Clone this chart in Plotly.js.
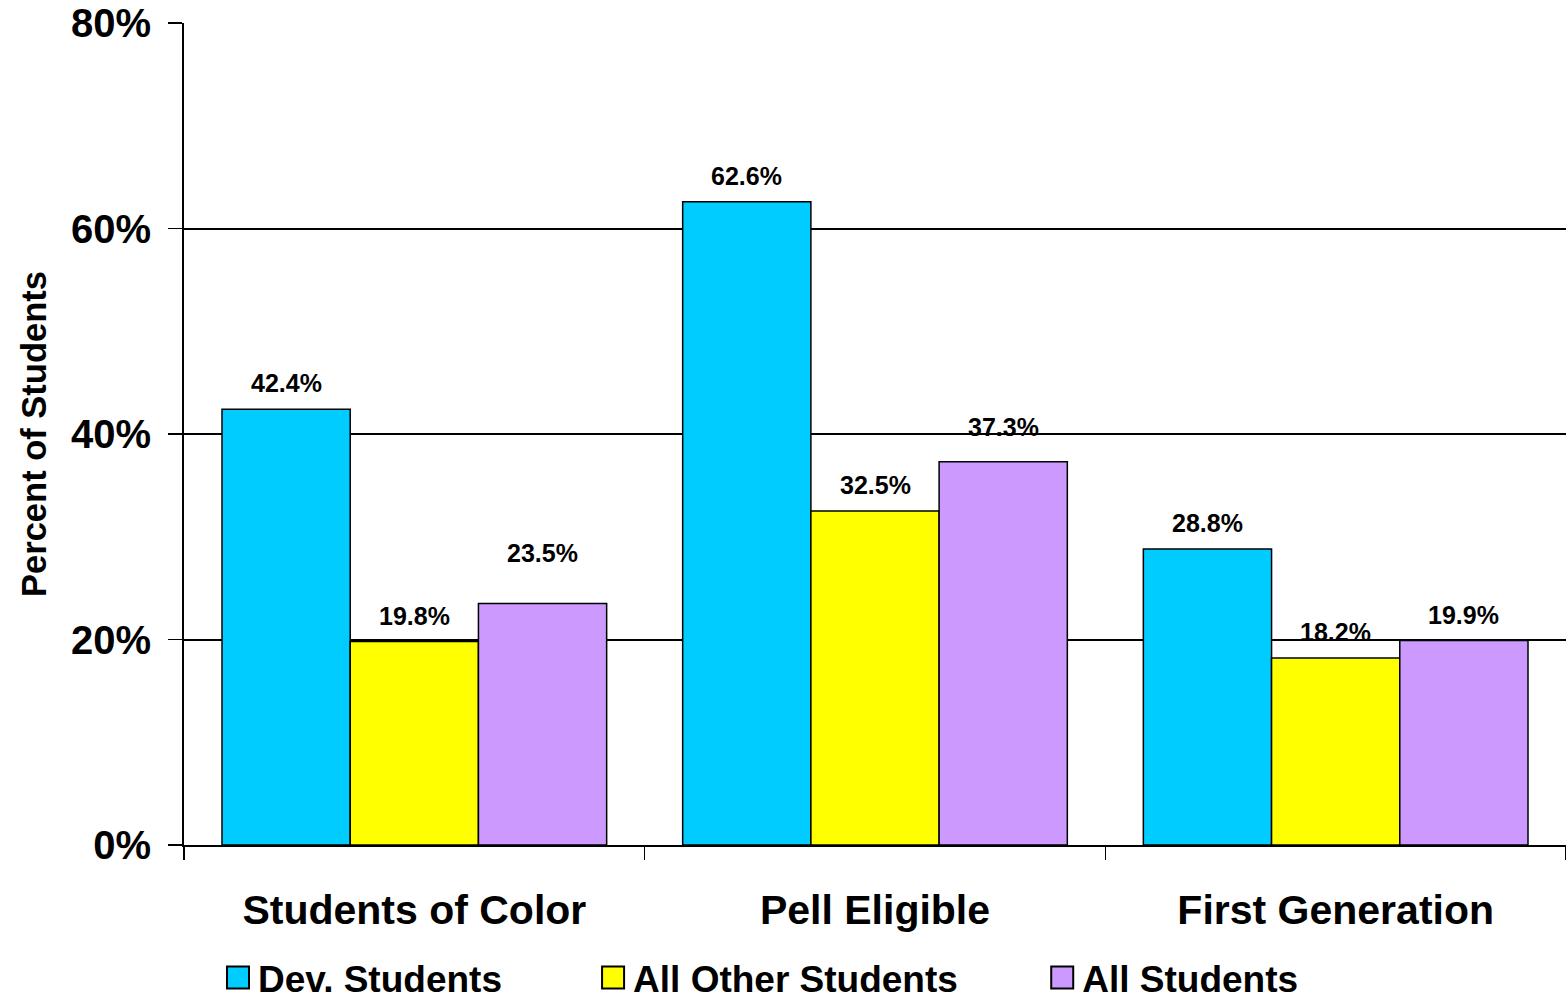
<!DOCTYPE html>
<html>
<head>
<meta charset="utf-8">
<script src="https://cdn.plot.ly/plotly-3.0.1.min.js"></script>
<style>
  html, body { margin: 0; padding: 0; background: #fff; overflow: hidden; }
  #chart { width: 1566px; height: 993px; }
</style>
</head>
<body>
<div id="chart"></div>
<script>
// ---- data ----
const categories = ["Students of Color", "Pell Eligible", "First Generation"];
const seriesNames = ["Dev. Students", "All Other Students", "All Students"];
const devStudents = [42.4, 62.6, 28.8];
const allOtherStudents = [19.8, 32.5, 18.2];
const allStudents = [23.5, 37.3, 19.9];
const yTickValues = [0, 20, 40, 60, 80];
const yTickLabels = ["0%", "20%", "40%", "60%", "80%"];

// ---- style ----
const seriesValues = [devStudents, allOtherStudents, allStudents];
const seriesColors = ["#00CCFF", "#FFFF00", "#CC99FF"];
// label vertical offsets (px) above bar tops, as placed in the original
const labelShift = [[26, 26, 26], [26, 26, 26], [51, 35, 26]];
const FONT = "'Liberation Sans', Arial, Helvetica, sans-serif";
const BARGAP = 0.165;
const legendX = [0.0246, 0.296, 0.621];
const legendNames = ["legend", "legend2", "legend3"];

const traces = seriesValues.map((vals, j) => ({
  type: "bar",
  name: seriesNames[j],
  x: categories,
  y: vals,
  marker: { color: seriesColors[j], line: { color: "#000", width: 1.5 } },
  legend: legendNames[j],
  hoverinfo: "skip"
}));

const barW = (1 - BARGAP) / 3;
const annotations = [];
seriesValues.forEach((vals, j) => {
  vals.forEach((v, i) => {
    annotations.push({
      x: i + (j - 1) * barW,
      y: v,
      xref: "x", yref: "y",
      text: v.toFixed(1) + "%",
      showarrow: false,
      yanchor: "middle",
      yshift: labelShift[j][i],
      font: { family: FONT, size: 25, color: "#000", weight: 700 }
    });
  });
});

const legendBase = (x) => ({
  orientation: "h",
  x: x, xref: "paper", xanchor: "left",
  y: 1 - 947 / 993, yref: "container", yanchor: "top",
  font: { family: FONT, size: 37, color: "#000", weight: 700 },
  bgcolor: "rgba(0,0,0,0)"
});

const layout = {
  width: 1566, height: 993,
  margin: { l: 184, r: 0, t: 23, b: 148, pad: 0 },
  paper_bgcolor: "#fff", plot_bgcolor: "#fff",
  barmode: "group", bargap: BARGAP, bargroupgap: 0,
  showlegend: true,
  legend: legendBase(legendX[0]),
  legend2: legendBase(legendX[1]),
  legend3: legendBase(legendX[2]),
  xaxis: {
    type: "category",
    showline: true, linecolor: "#000", linewidth: 2,
    ticks: "outside", tickson: "boundaries", ticklen: 13, tickwidth: 1.5, tickcolor: "#000",
    ticklabelstandoff: 28,
    tickfont: { family: FONT, size: 41, color: "#000", weight: 700 },
    showgrid: false, zeroline: false, fixedrange: true
  },
  yaxis: {
    range: [0, 80],
    tickvals: yTickValues, ticktext: yTickLabels,
    showline: true, linecolor: "#000", linewidth: 2,
    ticks: "outside", ticklen: 14, tickwidth: 1.5, tickcolor: "#000",
    ticklabelstandoff: 9,
    tickfont: { family: FONT, size: 40, color: "#000", weight: 700 },
    showgrid: true, gridcolor: "#000", gridwidth: 2,
    zeroline: false, fixedrange: true,
    title: { text: "Percent of Students", standoff: 14,
             font: { family: FONT, size: 34.5, color: "#000", weight: 700 } }
  },
  annotations: annotations
};

Plotly.newPlot("chart", traces, layout, { displayModeBar: false, staticPlot: true }).then(() => {
  // enlarge the legend swatches to match the original's bigger squares
  document.querySelectorAll(".legendpoints path").forEach(p => {
    p.setAttribute("d", "M11,11H-11V-11H11Z");
    p.style.strokeWidth = "2px";
  });
});
</script>
</body>
</html>
